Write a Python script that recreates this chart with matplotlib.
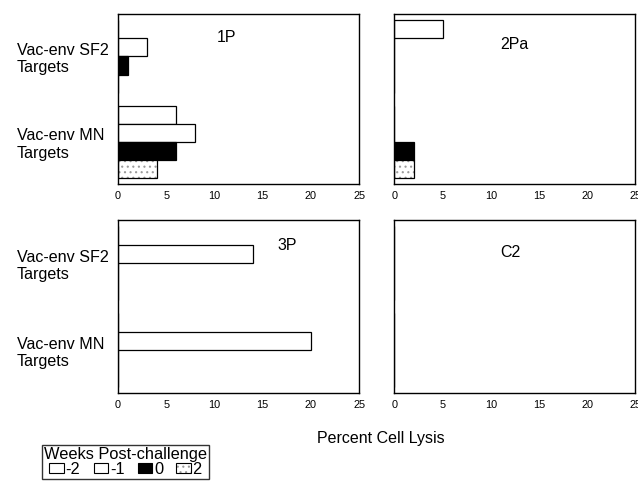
import matplotlib
matplotlib.use("Agg")
import matplotlib.pyplot as plt
import numpy as np
from matplotlib.patches import Patch
from matplotlib.legend_handler import HandlerTuple

plt.rcParams['font.family'] = ['Liberation Sans', 'DejaVu Sans']
plt.rcParams['hatch.linewidth'] = 0.8

categories = ["Vac-env SF2\nTargets", "Vac-env MN\nTargets"]
weeks = ["-2", "-1", "0", "2"]
panels = ["1P", "2Pa", "3P", "C2"]
# values[panel][week] -> [SF2, MN]
values = {
    "1P":  {"-2": [0, 6], "-1": [3, 8], "0": [1, 6], "2": [0, 4]},
    "2Pa": {"-2": [5, 0], "-1": [0, 0], "0": [0, 2], "2": [0, 2]},
    "3P":  {"-2": [0, 0], "-1": [14, 20], "0": [0, 0], "2": [0, 0]},
    "C2":  {"-2": [0, 0], "-1": [0, 0], "0": [0, 0], "2": [0, 0]},
}
xticks = [0, 5, 10, 15, 20, 25]

fill = {"-2": "white", "-1": "white", "0": "black", "2": "white"}
hatch = {"-2": None, "-1": None, "0": None, "2": "..."}

fig = plt.figure(figsize=(6.38, 4.87), dpi=100)
positions = {
    "1P": [0.185, 0.622, 0.378, 0.349],
    "2Pa": [0.618, 0.622, 0.378, 0.349],
    "3P": [0.185, 0.193, 0.378, 0.355],
    "C2": [0.618, 0.193, 0.378, 0.355],
}
title_pos = {"1P": (0.45, 0.865), "2Pa": (0.50, 0.82), "3P": (0.70, 0.855), "C2": (0.48, 0.815)}

bh = 0.212
y = np.arange(len(categories))
for p in panels:
    ax = fig.add_axes(positions[p])
    for i, w in enumerate(weeks):
        ypos = y - 1.5 * bh + i * bh
        if hatch[w]:
            ax.barh(ypos, values[p][w], height=bh, facecolor="white",
                    edgecolor="#9a9a9a", linewidth=0, hatch=hatch[w])
            ax.barh(ypos, values[p][w], height=bh, fill=False,
                    edgecolor="black", linewidth=0.9)
        else:
            ax.barh(ypos, values[p][w], height=bh, facecolor=fill[w],
                    edgecolor="black", linewidth=0.9)
    ax.set_xlim(0, 25)
    ax.set_ylim(1.495, -0.495)
    ax.set_xticks(xticks)
    ax.set_xticklabels([str(t) for t in xticks], fontsize=7.8)
    ax.tick_params(axis='x', length=0, pad=5)
    if p in ("1P", "3P"):
        ax.set_yticks(y)
        ax.set_yticklabels(categories, fontsize=11.6, ha="left", multialignment="left",
                           linespacing=1.2)
        ax.tick_params(axis='y', length=0, pad=72.7)
    else:
        ax.set_yticks([])
    for s in ax.spines.values():
        s.set_linewidth(1.0)
        s.set_color("black")
    ax.text(title_pos[p][0], title_pos[p][1], p, transform=ax.transAxes,
            ha="center", va="center", fontsize=11.5)

fig.text(0.597, 1 - 438 / 487, "Percent Cell Lysis", ha="center", va="center", fontsize=11.5)

handles = []
for w in weeks:
    if hatch[w]:
        handles.append((Patch(facecolor="white", edgecolor="#9a9a9a", hatch=hatch[w], linewidth=0),
                        Patch(fill=False, edgecolor="black", linewidth=0.8)))
    else:
        handles.append(Patch(facecolor=fill[w], edgecolor="black", linewidth=0.8))
leg = fig.legend(handles, weeks, loc="upper left", bbox_to_anchor=(0.066, 1 - 445 / 487),
                 ncol=4, title="Weeks Post-challenge", fontsize=11.8, title_fontsize=11.8,
                 frameon=True, fancybox=False, edgecolor="black",
                 handlelength=0.9, handleheight=0.6, handletextpad=0.1,
                 columnspacing=0.8, borderpad=0.12, labelspacing=0.0,
                 borderaxespad=0, handler_map={tuple: HandlerTuple(ndivide=1)})
leg.get_frame().set_linewidth(1.0)

fig.savefig("out.png", dpi=100)
